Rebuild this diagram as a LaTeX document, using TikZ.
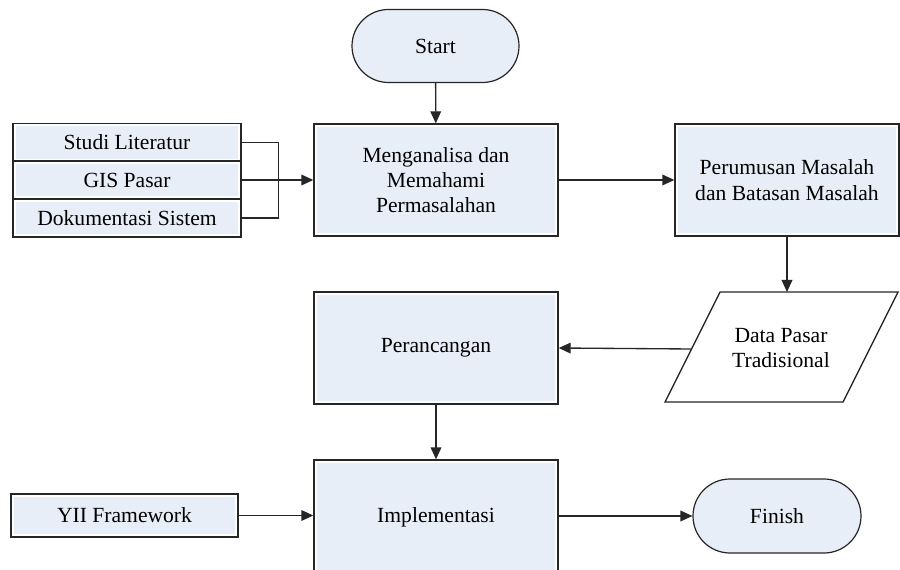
\documentclass[tikz,border=0pt]{standalone}
\usepackage{fontspec}
\setmainfont{Liberation Serif}
\newfontfamily\tnr{Liberation Serif}
\usetikzlibrary{shapes.misc,arrows.meta}
\definecolor{boxfill}{HTML}{E8EEF7}
\tikzset{
  every node/.style={font=\tnr\fontsize{16.2}{19}\selectfont, align=center, inner sep=0pt},
  procbox/.style={draw=black!85, line width=1pt, fill=white, rectangle,
    path picture={\fill[boxfill] ([xshift=2pt,yshift=-2pt]path picture bounding box.north west) rectangle ([xshift=-2pt,yshift=2pt]path picture bounding box.south east);}},
  termbox/.style={draw=black!85, line width=0.9pt, fill=boxfill, rounded rectangle},
  conn/.style={line width=1pt, draw=black!85},
  arr/.style={conn, -{Triangle[length=9pt,width=8pt]}}
}
\begin{document}
\begin{tikzpicture}[x=0.75pt,y=-0.75pt]
\clip (0,0) rectangle (900,570);
\fill[white] (0,0) rectangle (900,570);
% terminals
\node[termbox, minimum width=167*0.75pt, minimum height=73*0.75pt] (start) at (435.5,46) {Start};
\node[termbox, minimum width=168*0.75pt, minimum height=74*0.75pt] (fin) at (777,516) {Finish};
% processes
\node[procbox, minimum width=244*0.75pt, minimum height=112*0.75pt] (mem) at (436,180) {Menganalisa dan\\Memahami\\Permasalahan};
\node[procbox, minimum width=224*0.75pt, minimum height=112*0.75pt] (rum) at (787,180) {Perumusan Masalah\\dan Batasan Masalah};
\node[procbox, minimum width=244*0.75pt, minimum height=112*0.75pt] (per) at (436,348) {Perancangan};
\node[procbox, minimum width=244*0.75pt, minimum height=114*0.75pt] (imp) at (436,517) {Implementasi};
% left inputs
\node[procbox, minimum width=228*0.75pt, minimum height=37.5*0.75pt] (stu) at (127,142.5) {Studi Literatur};
\node[procbox, minimum width=228*0.75pt, minimum height=38*0.75pt] (gis) at (127,180) {GIS Pasar};
\node[procbox, minimum width=228*0.75pt, minimum height=38*0.75pt] (dok) at (127,218) {Dokumentasi Sistem};
\node[procbox, minimum width=227*0.75pt, minimum height=43*0.75pt] (yii) at (124.5,515.5) {YII Framework};
% data parallelogram
\coordinate (dtl) at (720,292);
\coordinate (dtr) at (898,292);
\coordinate (dbr) at (843,402);
\coordinate (dbl) at (665,402);
\coordinate (dtop) at (787,292);
\coordinate (dleft) at (691.5,349);
\draw[conn, fill=white] (dtl) -- (dtr) -- (dbr) -- (dbl) -- cycle;
\node (dat) at (781,348) {Data Pasar\\Tradisional};
% connectors
\draw[arr] (start) -- (mem);
\draw[conn] (stu.east) -- ++(37,0) |- (dok.east);
\draw[arr] (gis.east) -- (mem.west);
\draw[arr] (mem.east) -- (rum.west);
\draw[arr] (rum.south) -- (dtop);
\draw[arr] (dleft) -- (per.east);
\draw[arr] (per) -- (imp);
\draw[arr] (yii.east) -- (imp.west |- yii.east);
\draw[arr] (imp.east |- fin.west) -- (fin.west);
\end{tikzpicture}
\end{document}
